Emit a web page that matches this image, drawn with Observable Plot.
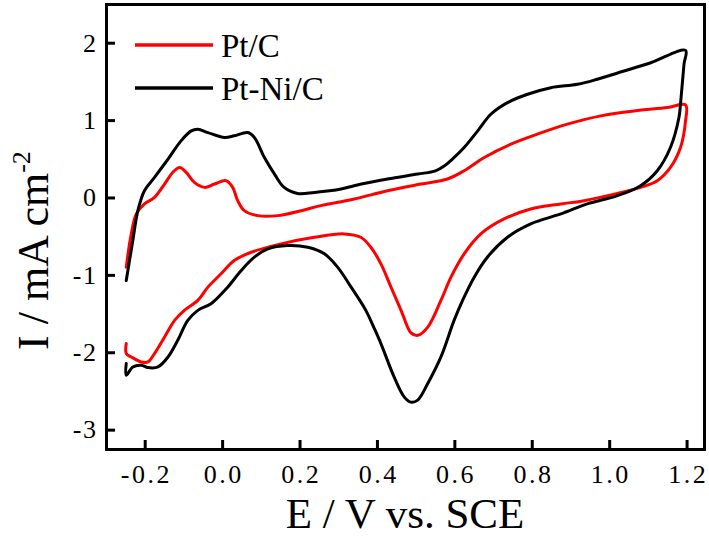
<!DOCTYPE html>
<html><head><meta charset="utf-8">
<script src="https://cdn.jsdelivr.net/npm/d3@7"></script>
<script src="https://cdn.jsdelivr.net/npm/@observablehq/plot@0.6"></script>
<style>body{margin:0;background:#fff}</style>
</head><body><div id="chart"></div>
<script>
const seriesNames = ["Pt/C", "Pt-Ni/C"];
const seriesColors = ["#ff0000", "#000000"];
const xTicks = [-0.2, 0.0, 0.2, 0.4, 0.6, 0.8, 1.0, 1.2];
const yTicks = [-3, -2, -1, 0, 1, 2];
const xTitle = "E / V vs. SCE";
const yTitle = "I / mA cm";
const yTitleSup = "-2";

// Pt/C: anodic sweep then cathodic sweep
const ptcE = [-0.249,-0.236,-0.223,-0.202,-0.176,-0.150,-0.129,-0.111,-0.094,-0.073,-0.047,-0.021,0.009,0.026,0.039,0.056,0.091,0.142,0.203,0.254,0.340,0.426,0.512,0.581,0.624,0.676,0.745,0.813,0.891,0.977,1.063,1.149,1.196,
  1.196,1.183,1.157,1.123,1.080,1.020,0.934,0.874,0.796,0.727,0.667,0.624,0.590,0.564,0.530,0.504,0.487,0.478,0.461,0.435,0.409,0.383,0.357,0.314,0.237,0.151,0.074,0.030,-0.004,-0.038,-0.064,-0.099,-0.124,-0.150,-0.176,-0.193,-0.210,-0.236,-0.249,-0.249];
const ptcI = [-0.894,-0.464,-0.206,-0.077,0.008,0.180,0.330,0.394,0.330,0.201,0.137,0.180,0.223,0.137,-0.035,-0.164,-0.228,-0.228,-0.164,-0.099,-0.013,0.094,0.180,0.245,0.352,0.523,0.696,0.825,0.954,1.061,1.125,1.168,1.202,
  0.996,0.652,0.394,0.223,0.137,0.059,-0.035,-0.077,-0.142,-0.271,-0.464,-0.722,-1.023,-1.323,-1.668,-1.775,-1.745,-1.668,-1.452,-1.152,-0.851,-0.637,-0.508,-0.464,-0.508,-0.593,-0.701,-0.808,-0.979,-1.152,-1.323,-1.452,-1.582,-1.796,-2.010,-2.119,-2.119,-2.054,-2.010,-1.881];

// Pt-Ni/C: anodic sweep then cathodic sweep
const ptniE = [-0.249,-0.232,-0.219,-0.202,-0.176,-0.141,-0.107,-0.081,-0.064,-0.038,0.005,0.030,0.065,0.082,0.108,0.134,0.159,0.194,0.237,0.306,0.340,0.426,0.504,0.550,0.573,0.593,0.624,0.659,0.693,0.736,0.788,0.848,0.917,0.968,1.037,1.106,1.196,
  1.192,1.183,1.179,1.157,1.123,1.080,1.020,0.942,0.874,0.796,0.736,0.684,0.650,0.620,0.598,0.564,0.530,0.504,0.486,0.469,0.443,0.409,0.390,0.370,0.332,0.297,0.263,0.220,0.168,0.117,0.082,0.048,0.013,-0.030,-0.064,-0.090,-0.116,-0.141,-0.167,-0.193,-0.210,-0.232,-0.249,-0.249];
const ptniI = [-1.066,-0.550,-0.164,0.094,0.265,0.503,0.741,0.867,0.889,0.845,0.781,0.803,0.845,0.781,0.523,0.309,0.137,0.059,0.072,0.116,0.159,0.245,0.309,0.350,0.415,0.500,0.652,0.867,1.082,1.232,1.340,1.425,1.469,1.534,1.640,1.747,1.907,
  1.727,1.215,1.039,0.652,0.352,0.159,0.030,-0.077,-0.206,-0.335,-0.508,-0.765,-1.023,-1.323,-1.582,-2.054,-2.397,-2.612,-2.638,-2.570,-2.312,-1.881,-1.666,-1.452,-1.152,-0.894,-0.722,-0.637,-0.615,-0.657,-0.765,-0.937,-1.152,-1.366,-1.452,-1.582,-1.839,-2.054,-2.183,-2.191,-2.161,-2.183,-2.290,-2.140];

const rows = [];
ptcE.forEach((e, i) => rows.push({s: seriesNames[0], E: e, I: ptcI[i]}));
ptniE.forEach((e, i) => rows.push({s: seriesNames[1], E: e, I: ptniI[i]}));

const serif = "'Liberation Serif', 'DejaVu Serif', serif";
const plot = Plot.plot({
  width: 709, height: 538,
  marginLeft: 106, marginRight: 5, marginTop: 4, marginBottom: 89,
  style: {fontFamily: serif, background: "white", color: "black"},
  x: {domain: [-0.3, 1.245]},
  y: {domain: [-3.25, 2.5]},
  color: {domain: seriesNames, range: seriesColors},
  marks: [
    Plot.line(rows, {x: "E", y: "I", z: "s", stroke: "s", strokeWidth: 3, curve: "catmull-rom"}),
    Plot.axisX({ticks: xTicks, tickSize: -9, strokeWidth: 3, tickPadding: 24, fontSize: 26, tickFormat: d => d.toFixed(1), label: null}),
    Plot.axisY({ticks: yTicks, tickSize: -9, strokeWidth: 3, tickPadding: 18, fontSize: 26, tickFormat: d => String(d), label: null}),
    Plot.frame({strokeWidth: 3})
  ]
});
document.getElementById("chart").appendChild(plot);

const svg = d3.select(plot);
svg.selectAll("g[aria-label='x-axis tick label'] text").attr("letter-spacing", "2.5px").attr("dx", "1.2px");
svg.selectAll("g[aria-label='y-axis tick label'] text").attr("letter-spacing", "1.5px");
// axis titles
svg.append("text").attr("x", 405).attr("y", 528).attr("text-anchor", "middle")
  .attr("font-family", serif).attr("font-size", 43).attr("fill", "black").text(xTitle);
const yt = svg.append("text").attr("transform", "translate(48,350) rotate(-90)")
  .attr("text-anchor", "start")
  .attr("font-family", serif).attr("font-size", 44).attr("fill", "black");
yt.append("tspan").text(yTitle);
yt.append("tspan").attr("dy", -18).attr("font-size", 26).text(yTitleSup);

// legend
const lg = svg.append("g").attr("text-anchor", "start");
seriesNames.forEach((name, i) => {
  const y = 45 + i * 43;
  lg.append("line").attr("x1", 135).attr("x2", 213).attr("y1", y).attr("y2", y)
    .attr("stroke", seriesColors[i]).attr("stroke-width", 3.5);
  lg.append("text").attr("x", 221).attr("y", y + 12).attr("font-family", serif)
    .attr("font-size", 33).attr("fill", "black").text(name);
});
</script>
</body></html>
